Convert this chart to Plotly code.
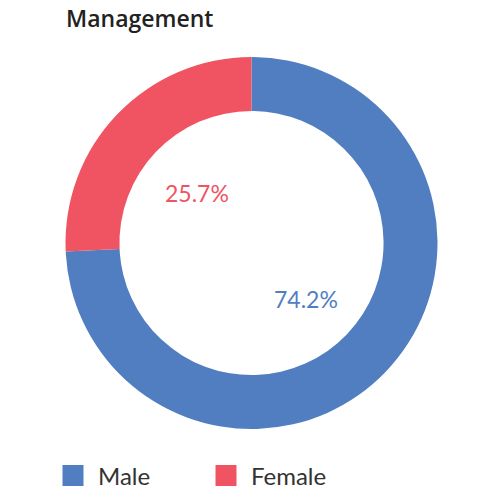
import math
import plotly.graph_objects as go

# Data
labels = ["Male", "Female"]
values = [74.2, 25.7]
colors = ["#517EC0", "#F05463"]

# pie placement (paper coords)
dom_x = [0.115, 0.859]
dom_y = [0.158, 0.902]
cx = sum(dom_x) / 2
cy = sum(dom_y) / 2
r_lab = 0.152

fig = go.Figure()

fig.add_trace(go.Pie(
    labels=labels,
    values=values,
    hole=0.71,
    sort=False,
    direction="clockwise",
    rotation=0,
    marker=dict(colors=colors, line=dict(width=0)),
    textinfo="none",
    hoverinfo="label+percent",
    showlegend=False,
    domain=dict(x=dom_x, y=dom_y),
))

# legend entries (square markers)
for lab, col in zip(labels, colors):
    fig.add_trace(go.Scatter(
        x=[None], y=[None], mode="markers", name=lab,
        marker=dict(symbol="square", size=22, color=col,
                    line=dict(width=8, color=col)),
    ))

# percentage labels inside the hole, at each slice's mid angle
total = sum(values)
start = 0.0
for v, col in zip(values, colors):
    mid = (start + v / 2) / total * 2 * math.pi
    start += v
    fig.add_annotation(
        x=cx + r_lab * math.sin(mid),
        y=cy + r_lab * math.cos(mid),
        xref="paper", yref="paper", yshift=-3,
        text=f"{v}%", showarrow=False,
        font=dict(size=23, color=col, family="Lato"),
    )

fig.update_layout(
    width=500, height=500,
    margin=dict(l=0, r=0, t=0, b=0),
    paper_bgcolor="white", plot_bgcolor="white",
    title=dict(text="Management", x=0.116, xanchor="left", y=1, yanchor="top",
               pad=dict(t=3),
               font=dict(size=23, color="#222222", family="Open Sans", weight=600)),
    xaxis=dict(visible=False), yaxis=dict(visible=False),
    legend=dict(orientation="h", x=0.08, y=0.064, xanchor="left", yanchor="middle",
                font=dict(size=24, color="#333333", family="Lato"),
                itemwidth=40, entrywidth=98, entrywidthmode="pixels",
                traceorder="normal"),
)

fig.write_html("out.html")
